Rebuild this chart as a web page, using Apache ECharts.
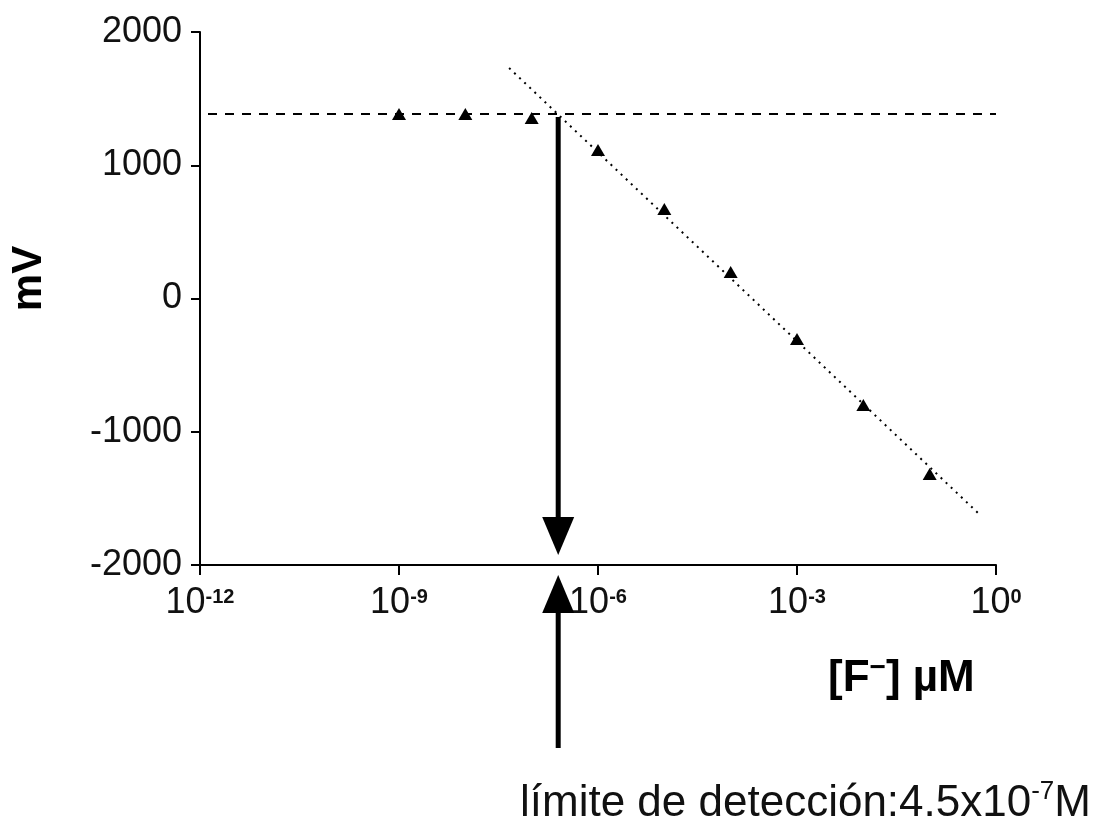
<!DOCTYPE html>
<html><head><meta charset="utf-8">
<script src="https://cdn.jsdelivr.net/npm/echarts@6/dist/echarts.min.js"></script>
<style>html,body{margin:0;padding:0;background:#fff}#chart{width:1096px;height:823px}</style>
</head><body><div id="chart"></div>
<script>
// log10 of [F-] concentration (M)
const logConc = [-9, -8, -7, -6, -5, -4, -3, -2, -1];
// measured potential (mV)
const potential = [1385, 1385, 1355, 1115, 672, 199, -304, -799, -1317];
// linear (Nernstian) fit line end points
const fitLogConc = [-7.34, -0.27];
const fitPotential = [1730, -1610];
// plateau (horizontal dashed line)
const plateauValue = 1385;
// detection limit position (intersection) and arrows: [x, start, tip]
const detectionLogConc = -6.6;
const arrowDown = [detectionLogConc, 1362, -1925];
const arrowUp = [detectionLogConc, -3373, -2075];
// axis ranges / ticks
const xMin = -12, xMax = 0, xStep = 3;
const yMin = -2000, yMax = 2000, yStep = 1000;
const yName = 'mV';
const noteText = 'límite de detección:4.5x10';
const noteExp = '-7';

const FONT = "'Liberation Sans', Arial, sans-serif";
const chart = echarts.init(document.getElementById('chart'), null, {renderer: 'canvas'});

const option = {
  backgroundColor: '#fff',
  animation: false,
  grid: {left: 198, right: 100, top: 32, bottom: 258, containLabel: false},
  xAxis: {
    type: 'value', min: xMin, max: xMax, interval: xStep,
    axisLine: {onZero: false, lineStyle: {color: '#000', width: 2}},
    axisTick: {show: true, length: 10, lineStyle: {color: '#000', width: 2}},
    splitLine: {show: false},
    axisLabel: {
      margin: 18, color: '#000', fontFamily: FONT,
      formatter: v => '{b|10}{s|' + v + '}',
      rich: {
        b: {fontSize: 36, fontFamily: FONT, color: '#111', lineHeight: 40},
        s: {fontSize: 20, fontFamily: FONT, color: '#111', fontWeight: 'bold', lineHeight: 20, verticalAlign: 'top', padding: [4, 0, 0, 0]}
      }
    }
  },
  yAxis: {
    type: 'value', min: yMin, max: yMax, interval: yStep,
    name: yName, nameLocation: 'middle', nameRotate: 90, nameGap: 150,
    nameTextStyle: {fontSize: 42, fontWeight: 'bold', fontFamily: FONT, color: '#000', padding: [0, 0, 0, 40]},
    axisLine: {onZero: false, lineStyle: {color: '#000', width: 2}},
    axisTick: {show: true, length: 9, lineStyle: {color: '#000', width: 2}},
    splitLine: {show: false},
    axisLabel: {margin: 18, fontSize: 36, fontFamily: FONT, color: '#111', formatter: v => String(v)}
  },
  series: [
    {
      type: 'line', name: 'plateau', data: [[xMin, plateauValue], [xMax, plateauValue]],
      symbol: 'none', silent: true,
      lineStyle: {color: '#000', width: 2, type: [9, 8], dashOffset: -8}
    },
    {
      type: 'line', name: 'fit', data: fitLogConc.map((x, i) => [x, fitPotential[i]]),
      symbol: 'none', silent: true,
      lineStyle: {color: '#000', width: 2, type: [2, 5]}
    },
    {
      type: 'scatter', name: 'mV', data: logConc.map((x, i) => [x, potential[i]]),
      symbol: 'triangle', symbolSize: [14, 12],
      itemStyle: {color: '#000', opacity: 1}
    },
    {
      type: 'custom', name: 'arrows', clip: false, silent: true,
      data: [arrowDown, arrowUp],
      encode: {x: 0, y: [1, 2]},
      renderItem: function (params, api) {
        const x = api.value(0);
        const p0 = api.coord([x, api.value(1)]);
        const p1 = api.coord([x, api.value(2)]);
        const dir = Math.sign(p1[1] - p0[1]);
        const headLen = 38, headW = 32;
        const base = p1[1] - dir * headLen;
        return {
          type: 'group',
          children: [
            {type: 'line', shape: {x1: p0[0], y1: p0[1], x2: p0[0], y2: base + dir * 2},
             style: {stroke: '#000', lineWidth: 5}},
            {type: 'polygon', shape: {points: [[p1[0] - headW / 2, base], [p1[0] + headW / 2, base], [p1[0], p1[1]]]},
             style: {fill: '#000'}}
          ]
        };
      }
    }
  ],
  graphic: [
    {
      type: 'text', left: 828, top: 654,
      style: {
        text: '{a|[F}{s|−}{a|] µM}',
        rich: {
          a: {fontSize: 44, fontWeight: 'bold', fontFamily: FONT, fill: '#000', lineHeight: 50},
          s: {fontSize: 28, fontWeight: 'bold', fontFamily: FONT, fill: '#000', lineHeight: 28, verticalAlign: 'top'}
        }
      }
    },
    {
      type: 'text', left: 520, top: 779,
      style: {
        text: '{a|' + noteText + '}{s|' + noteExp + '}{a|M}',
        rich: {
          a: {fontSize: 44, fontFamily: FONT, fill: '#111', lineHeight: 50},
          s: {fontSize: 26, fontFamily: FONT, fill: '#111', lineHeight: 26, verticalAlign: 'top'}
        }
      }
    }
  ]
};
chart.setOption(option);
</script>
</body></html>
